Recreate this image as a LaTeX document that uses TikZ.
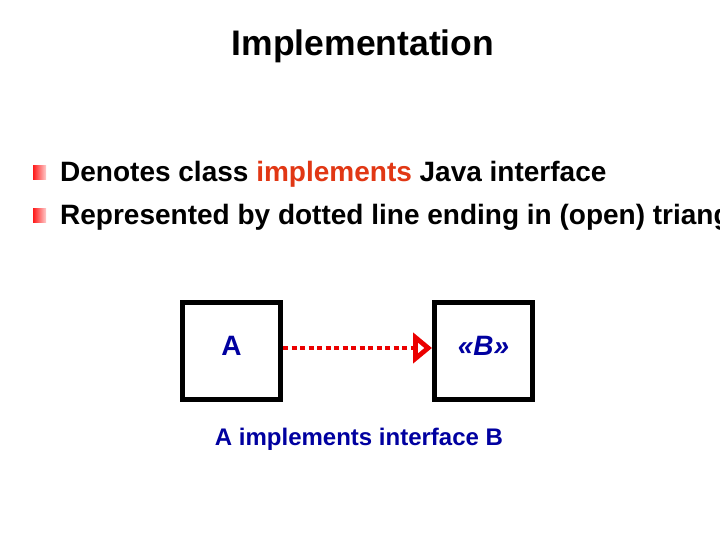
\documentclass[tikz,border=0pt]{standalone}
\usepackage{fontspec}
\setmainfont{Liberation Sans}
\usepackage{xcolor}
\usetikzlibrary{arrows.meta,positioning}

\definecolor{umlblue}{RGB}{0,0,160}
\definecolor{keyred}{RGB}{225,55,20}
\definecolor{linkred}{RGB}{235,0,0}

\begin{document}
\begin{tikzpicture}[x=1pt, y=-1pt,
    box/.style={draw, line width=5pt, minimum width=98pt, minimum height=97pt, inner sep=0pt,
                text depth=10pt, text=umlblue, font=\fontsize{28}{32}\selectfont\bfseries},
    bulletsq/.style={minimum width=13pt, minimum height=14pt, inner sep=0pt,
                     left color=red!90, right color=red!20},
    item/.style={anchor=base west, inner sep=0pt, font=\fontsize{28}{32}\selectfont\bfseries},
    realize/.style={-{Triangle[open, length=19pt, width=30pt, line width=5pt]},
                    linkred, line width=4.5pt, dash pattern=on 5pt off 3.5pt},
]
\clip (0,0) rectangle (720,540);
\fill[white] (0,0) rectangle (720,540);

% ---------- Title ----------
\node[font=\fontsize{35.5}{40}\selectfont\bfseries] (title) at (363,46) {Implementation};

% ---------- Bullet points ----------
\node[bulletsq] (bulletone) at (39.5,173) {};
\node[item] (itemone) at (60,182) {Denotes class \textcolor{keyred}{implements} Java interface};
\node[bulletsq] (bullettwo) at (39.5,216) {};
\node[item] (itemtwo) at (60,225) {Represented by dotted line ending in (open) triangle};

% ---------- Classes ----------
\node[box] (classa) at (231.5,351) {A};
\node[box] (classb) at (483.5,351) {\itshape «B»};

% ---------- Realization arrow ----------
\draw[realize] ([yshift=3pt]classa.east) -- ([yshift=3pt]classb.west);

\node[text=umlblue, font=\fontsize{24}{28}\selectfont\bfseries] (caption) at (359,439) {A implements interface B};

\end{tikzpicture}
\end{document}
